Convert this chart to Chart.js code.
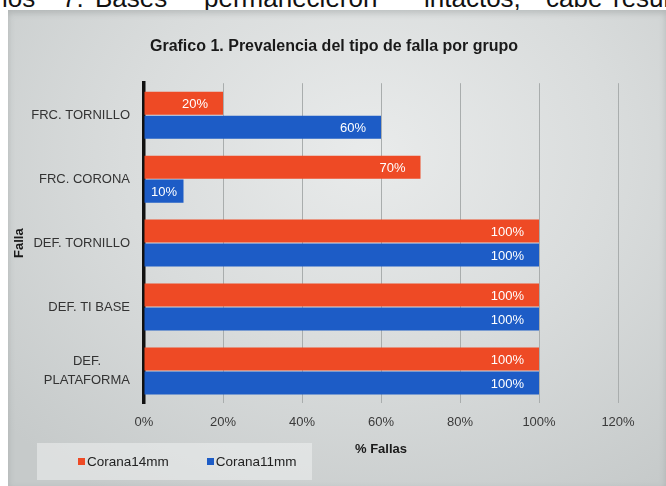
<!DOCTYPE html>
<html lang="es">
  <head>
    <meta charset="UTF-8">
    <title>Grafico 1</title>
    <script src="https://cdn.jsdelivr.net/npm/chart.js"></script>
    <style>
      html, body {
        margin: 0;
        padding: 0;
        width: 666px;
        height: 486px;
        overflow: hidden;
        background: #fff;
        font-family: "Liberation Sans", Arial, sans-serif;
      }
      #topline span {
        position: absolute;
        top: -15px;
        font-size: 26px;
        line-height: 26px;
        color: #111;
        white-space: nowrap;
      }
      #panel {
        position: absolute;
        left: 8px;
        top: 10px;
        width: 658px;
        height: 476px;
        background: radial-gradient(ellipse 75% 85% at 55% 30%, #e9ebeb 0%, #d9dcdc 50%, #c6caca 100%);
        box-shadow: inset 0 3px 6px rgba(120,125,125,0.35);
      }
      canvas {
        position: absolute;
        left: 0;
        top: 0;
      }
      #legend {
        position: absolute;
        left: 37px;
        top: 443px;
        width: 275px;
        height: 37px;
        background: rgba(238,240,240,0.55);
        display: flex;
        align-items: center;
        padding-left: 41px;
        box-sizing: border-box;
        gap: 38px;
        font-size: 13.5px;
        color: #222;
      }
      #legend .item { display: flex; align-items: center; }
      #legend .box { width: 7px; height: 7px; margin-right: 2px; }
    </style>
  </head>
  <body>
    <div id="topline">
      <span style="left:2px">los</span>
      <span style="left:62px">7.</span>
      <span style="left:95px">Bases</span>
      <span style="left:204px">permanecieron</span>
      <span style="left:424px">intactos,</span>
      <span style="left:546px">cabe</span>
      <span style="left:613px">resultar</span>
    </div>
    <div id="panel"></div>
    <canvas id="fallas" width="666" height="486"></canvas>
    <div id="legend"></div>
    <script>
      var categories = ['FRC. TORNILLO', 'FRC. CORONA', 'DEF. TORNILLO', 'DEF. TI BASE', ['DEF.        ', 'PLATAFORMA']];
      var corana14 = [20, 70, 100, 100, 100];
      var corana11 = [60, 10, 100, 100, 100];
      var seriesNames = ['Corana14mm', 'Corana11mm'];
      var seriesColors = ['#ee4a25', '#1d5cc6'];

      var font = '"Liberation Sans", Arial, sans-serif';

      // white % labels near the end of each bar
      var barLabels = {
        id: 'barLabels',
        afterDatasetsDraw: function(chart) {
          var ctx = chart.ctx;
          ctx.save();
          ctx.font = '13px ' + font;
          ctx.fillStyle = '#fff';
          ctx.textAlign = 'right';
          ctx.textBaseline = 'middle';
          chart.data.datasets.forEach(function(ds, i) {
            chart.getDatasetMeta(i).data.forEach(function(bar, j) {
              var txt = ds.data[j] + '%';
              var w = ctx.measureText(txt).width;
              var x = bar.x - 15;
              if (x - w < bar.base + 3) x = (bar.base + bar.x + w) / 2;
              ctx.fillText(txt, x, bar.y + 1);
            });
          });
          ctx.restore();
        }
      };

      var chart = new Chart(document.getElementById('fallas'), {
        type: 'bar',
        data: {
          labels: categories,
          datasets: [
            { label: seriesNames[0], data: corana14, backgroundColor: seriesColors[0] },
            { label: seriesNames[1], data: corana11, backgroundColor: seriesColors[1] }
          ]
        },
        options: {
          indexAxis: 'y',
          responsive: false,
          animation: false,
          categoryPercentage: 0.75,
          barPercentage: 0.96,
          layout: { padding: { left: 8, right: 6, top: 0, bottom: 0 } },
          plugins: {
            legend: { display: false },
            tooltip: { enabled: false },
            title: {
              display: true,
              text: 'Grafico 1. Prevalencia del tipo de falla por grupo',
              color: '#1a1a1a',
              font: { family: font, size: 16, weight: 'bold' },
              padding: { top: 37, bottom: 27 }
            }
          },
          scales: {
            x: {
              min: 0,
              max: 120,
              ticks: {
                stepSize: 20,
                padding: 12,
                color: '#3a3a3a',
                font: { family: font, size: 13 },
                callback: function(v) { return v + '%'; }
              },
              grid: { color: '#a9adad', drawTicks: false },
              border: { display: false },
              title: {
                display: true,
                text: '% Fallas',
                color: '#1a1a1a',
                font: { family: font, size: 13, weight: 'bold' },
                padding: { top: 0, bottom: 29 }
              },
              afterFit: function(scale) { scale.height = 83; }
            },
            y: {
              ticks: {
                padding: 14,
                color: '#333',
                font: { family: font, size: 13, lineHeight: 1.4 }
              },
              grid: { display: false, drawTicks: false },
              border: { color: '#111', width: 3.5 },
              title: {
                display: true,
                text: 'Falla',
                color: '#1a1a1a',
                font: { family: font, size: 13, weight: 'bold' },
                padding: { top: 4, bottom: 0 }
              },
              afterFit: function(scale) { scale.width = 136; }
            },
            // empty spacer on the right so the title sits where it does in the original
            yRight: {
              type: 'category',
              position: 'right',
              ticks: { display: false },
              grid: { display: false, drawTicks: false },
              border: { display: false },
              afterFit: function(scale) { scale.width = 42; }
            }
          }
        },
        plugins: [barLabels]
      });

      var legend = document.getElementById('legend');
      chart.data.datasets.forEach(function(ds) {
        var item = document.createElement('div');
        item.className = 'item';
        var box = document.createElement('span');
        box.className = 'box';
        box.style.background = ds.backgroundColor;
        var txt = document.createElement('span');
        txt.textContent = ds.label;
        item.appendChild(box);
        item.appendChild(txt);
        legend.appendChild(item);
      });
    </script>
  </body>
</html>
